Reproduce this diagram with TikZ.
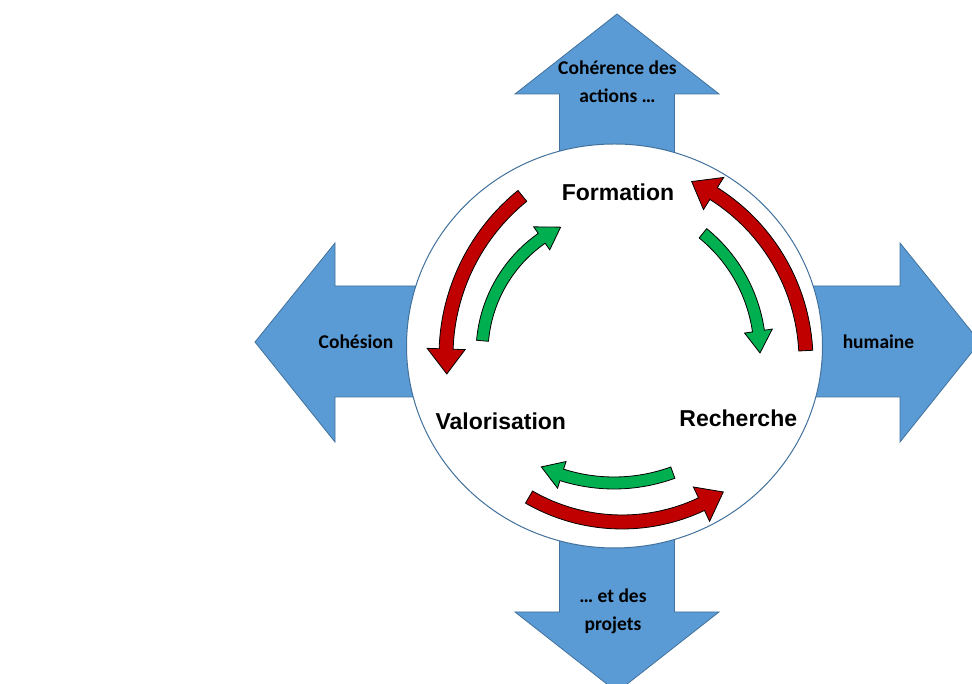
\documentclass[tikz,border=0pt]{standalone}
\usepackage{fontspec}
\setmainfont{Liberation Sans}
\newfontfamily\calibri{Carlito}
\usetikzlibrary{calc}

\definecolor{arrowblue}{RGB}{91,155,213}
\definecolor{edgeblue}{RGB}{65,113,156}
\definecolor{loopred}{RGB}{192,0,0}
\definecolor{loopgreen}{RGB}{0,176,80}

% centre, radius, from, to, colour, half band, half head, head length
\newcommand{\bentarrow}[8]{%
  \pgfmathsetmacro{\headat}{#4-sign(#4-#3)*deg(#8/#2)}%
  \pgfmathsetmacro{\rout}{#2+#6}%
  \pgfmathsetmacro{\rin}{#2-#6}%
  \pgfmathsetmacro{\hout}{#2+#7}%
  \pgfmathsetmacro{\hin}{#2-#7}%
  \filldraw[bent, fill=#5, shift={#1}]
    (#3:\rout) arc[start angle=#3, end angle=\headat, radius=\rout]
    -- (\headat:\hout) -- (#4:#2) -- (\headat:\hin)
    -- (\headat:\rin) arc[start angle=\headat, end angle=#3, radius=\rin]
    -- cycle;
}

\begin{document}
\begin{tikzpicture}[x=1pt, y=1pt]
			\tikzset{
			blockarrow/.style={
					fill=arrowblue, draw=edgeblue, line width=0.8pt, line join=miter,
				},
			bent/.style={
					draw=black, line width=0.8pt, line join=miter,
				},
			side/.style={
					font=\calibri\bfseries\fontsize{19.5}{28}\selectfont, align=center,
				},
			stage/.style={
					font=\bfseries\fontsize{23}{28}\selectfont, anchor=base,
				},
			}
			\path[use as bounding box, clip] (0,0) rectangle (972,684);

			% block arrows behind the circle
			\draw[blockarrow] (559.5,400) -- (559.5,590) -- (515,590) -- (617,670)
				-- (719,590) -- (674.5,590) -- (674.5,400) -- cycle;
			\draw[blockarrow] (559.5,280) -- (559.5,72) -- (515,72) -- (617,-8)
				-- (719,72) -- (674.5,72) -- (674.5,280) -- cycle;
			\draw[blockarrow] (500,398) -- (335,398) -- (335,441) -- (255,342)
				-- (335,242) -- (335,287) -- (500,287) -- cycle;
			\draw[blockarrow] (720,398) -- (900,398) -- (900,441) -- (980,342)
				-- (900,242) -- (900,287) -- (720,287) -- cycle;

			\node[side, anchor=base] (cohesion) at (356,335) {Cohésion};
			\node[side, anchor=base] (humaine) at (878.5,335) {humaine};
			\node[side] (coherence) at (617.5,602) {Cohérence des\\actions …};
			\node[side] (projets) at (613,73) {… et des\\projets};

			\draw[fill=white, draw=edgeblue, line width=1pt] (614.5,338) ellipse[x radius=208, y radius=202];

			\node[stage] (formation) at (618,483) {Formation};
			\node[stage] (valorisation) at (500.8,254) {Valorisation};
			\node[stage] (recherche) at (738.3,257.3) {Recherche};

			\bentarrow{(652,328)}{206}{129}{185}{loopred}{7}{19}{25}
			\bentarrow{(622,331)}{140}{175}{116}{loopgreen}{6}{14}{22}
			\bentarrow{(608,323)}{198}{3}{65}{loopred}{7}{19}{25}
			\bentarrow{(606,331)}{154}{51}{0}{loopgreen}{6}{14}{22}
			\bentarrow{(614,373)}{172}{-70}{-115}{loopgreen}{6}{14}{22}
			\bentarrow{(622,348)}{186}{-120}{-57}{loopred}{7}{19}{25}
		\end{tikzpicture}
\end{document}
